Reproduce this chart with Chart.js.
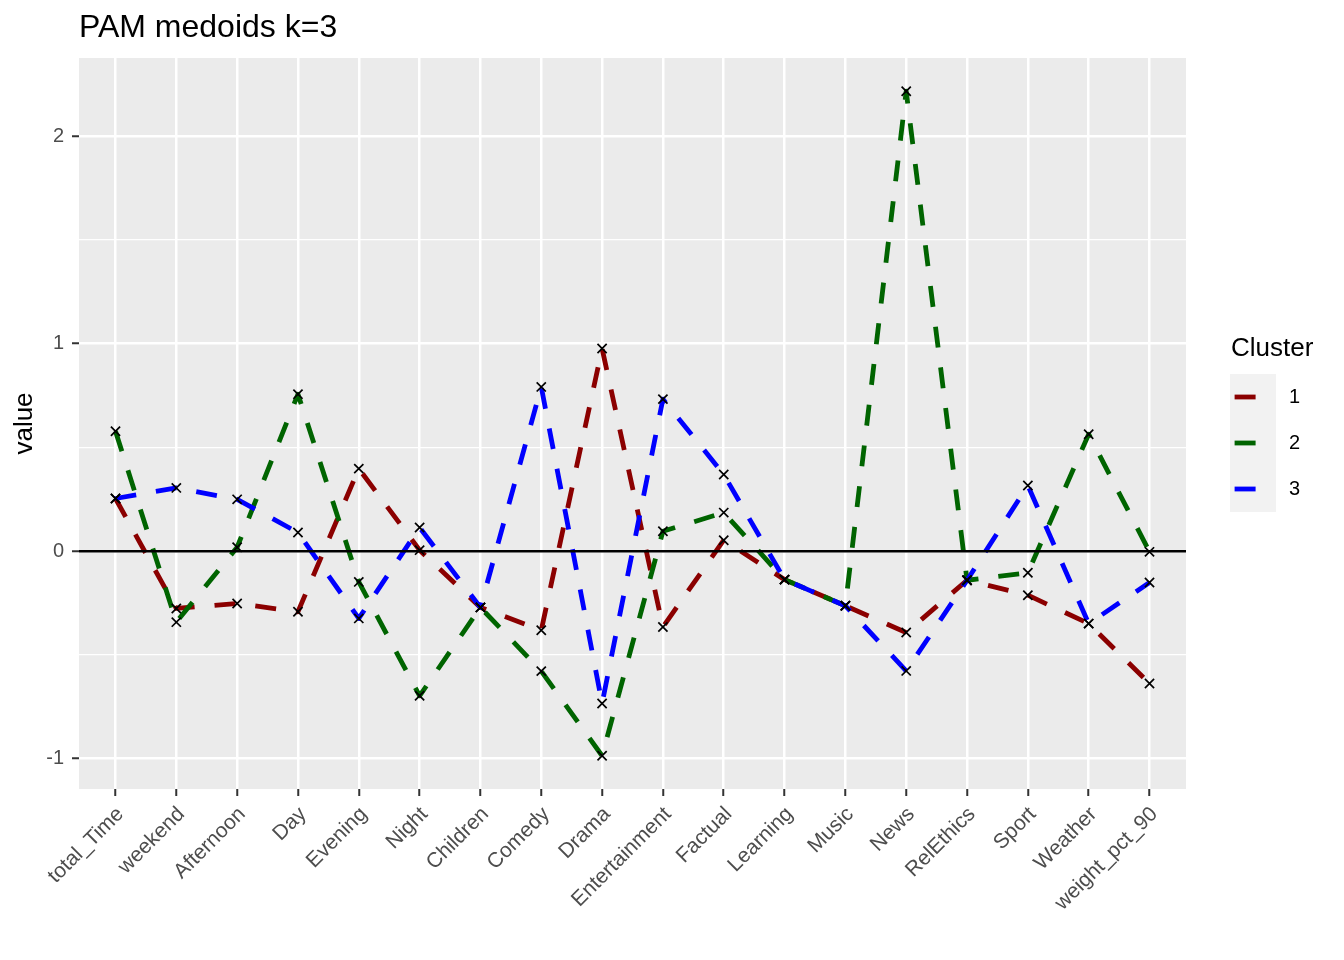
<!DOCTYPE html>
<html>
<head>
<meta charset="utf-8">
<title>PAM medoids k=3</title>
<script src="https://cdn.jsdelivr.net/npm/chart.js@4.4.1/dist/chart.umd.min.js"></script>
<style>
  html, body { margin: 0; padding: 0; background: #ffffff; }
  #wrap { width: 1344px; height: 960px; }
</style>
</head>
<body>
<div id="wrap"><canvas id="pam" width="1344" height="960"></canvas></div>
<script>
// variables on the x axis
const categories = ['total_Time', 'weekend', 'Afternoon', 'Day', 'Evening', 'Night',
  'Children', 'Comedy', 'Drama', 'Entertainment', 'Factual', 'Learning', 'Music',
  'News', 'RelEthics', 'Sport', 'Weather', 'weight_pct_90'];

const clusterNames = ['1', '2', '3'];

// medoid values
const cluster1 = [0.254, -0.276, -0.252, -0.292, 0.398, 0.005, -0.271, -0.381, 0.977,
  -0.365, 0.053, -0.137, -0.263, -0.392, -0.140, -0.212, -0.349, -0.638];
const cluster2 = [0.578, -0.342, 0.019, 0.757, -0.148, -0.697, -0.271, -0.578, -0.986,
  0.096, 0.186, -0.137, -0.263, 2.217, -0.140, -0.104, 0.564, -0.003];
const cluster3 = [0.254, 0.305, 0.250, 0.090, -0.324, 0.114, -0.271, 0.792, -0.734,
  0.733, 0.370, -0.137, -0.263, -0.577, -0.140, 0.317, -0.349, -0.151];

const yTicks = [-1, -0.5, 0, 0.5, 1, 1.5, 2];

const clusterColors = ['#8B0000', '#006400', '#0000FF'];
const allSeries = [cluster1, cluster2, cluster3];

// ggplot style expansion: 5% on continuous y, 0.6 units on discrete x
const allVals = [].concat(cluster1, cluster2, cluster3);
const yLo = Math.min(...allVals), yHi = Math.max(...allVals);
const yPad = (yHi - yLo) * 0.05;
const xMin = -0.6, xMax = categories.length - 1 + 0.6;

Chart.defaults.font.family = "'Liberation Sans', Arial, Helvetica, sans-serif";

const datasets = [];
allSeries.forEach((vals, i) => {
  datasets.push({
    label: clusterNames[i],
    isCluster: true,
    data: vals.map((v, j) => ({x: j, y: v})),
    borderColor: clusterColors[i],
    backgroundColor: clusterColors[i],
    borderWidth: 4.8,
    borderDash: [21, 20],
    borderJoinStyle: 'round',
    pointRadius: 0,
    fill: false,
    tension: 0,
    order: 10 - i
  });
});
// zero line
datasets.push({
  label: 'zero',
  data: [{x: xMin, y: 0}, {x: xMax, y: 0}],
  borderColor: '#000000',
  borderWidth: 2.5,
  pointRadius: 0,
  order: 5
});
// the x markers go over every line
allSeries.forEach((vals, i) => {
  datasets.push({
    label: 'pts' + clusterNames[i],
    data: vals.map((v, j) => ({x: j, y: v})),
    showLine: false,
    pointStyle: 'crossRot',
    pointRadius: 6.5,
    pointBorderColor: '#000000',
    pointBorderWidth: 1.7,
    order: 0
  });
});

const panelBg = {
  id: 'panelBg',
  beforeDraw(chart) {
    const {ctx, chartArea: a} = chart;
    ctx.save();
    ctx.fillStyle = '#ffffff';
    ctx.fillRect(0, 0, chart.width, chart.height);
    ctx.fillStyle = '#EBEBEB';
    ctx.fillRect(a.left, a.top, a.right - a.left, a.bottom - a.top);
    ctx.restore();
  }
};

const clusterLegend = {
  id: 'clusterLegend',
  afterDraw(chart) {
    const {ctx, chartArea: a} = chart;
    const mid = (a.top + a.bottom) / 2;
    const left = a.right + 44;
    const keySize = 46;
    const keysTop = mid - 49.5;
    const items = chart.data.datasets.filter(d => d.isCluster);
    ctx.save();
    ctx.textBaseline = 'middle';
    ctx.textAlign = 'left';
    ctx.fillStyle = '#000000';
    ctx.font = "26px 'Liberation Sans', Arial, sans-serif";
    ctx.fillText('Cluster', left + 1, mid - 74.5);
    ctx.fillStyle = '#F2F2F2';
    ctx.fillRect(left, keysTop, keySize, keySize * items.length);
    items.forEach((d, i) => {
      const cy = keysTop + keySize * i + keySize / 2;
      ctx.beginPath();
      ctx.setLineDash(d.borderDash);
      ctx.lineCap = 'butt';
      ctx.lineWidth = d.borderWidth;
      ctx.strokeStyle = d.borderColor;
      ctx.moveTo(left + keySize * 0.1, cy);
      ctx.lineTo(left + keySize * 0.9, cy);
      ctx.stroke();
      ctx.setLineDash([]);
      ctx.fillStyle = '#000000';
      ctx.font = "20px 'Liberation Sans', Arial, sans-serif";
      ctx.fillText(d.label, left + 59, cy);
    });
    ctx.restore();
  }
};

new Chart(document.getElementById('pam'), {
  type: 'line',
  data: {datasets: datasets},
  plugins: [panelBg, clusterLegend],
  options: {
    responsive: false,
    animation: false,
    devicePixelRatio: 1,
    layout: {padding: {left: 0, right: 158, top: 0, bottom: 0}},
    plugins: {
      legend: {display: false},
      tooltip: {enabled: false},
      title: {
        display: true,
        text: 'PAM medoids k=3',
        align: 'start',
        fullSize: false,
        color: '#000000',
        font: {size: 32, weight: 'normal'},
        padding: {top: 9, bottom: 10.6}
      }
    },
    scales: {
      x: {
        type: 'linear',
        min: xMin,
        max: xMax,
        afterBuildTicks: s => { s.ticks = categories.map((c, i) => ({value: i})); },
        afterFit: s => { s.height = 171; },
        ticks: {
          autoSkip: false,
          minRotation: 45,
          maxRotation: 45,
          padding: 6,
          labelOffset: 5,
          color: '#4D4D4D',
          font: {size: 21},
          callback: v => categories[v]
        },
        grid: {color: '#FFFFFF', lineWidth: 2.5, tickColor: '#333333', tickWidth: 2, tickLength: 7},
        border: {display: false}
      },
      y: {
        type: 'linear',
        min: yLo - yPad,
        max: yHi + yPad,
        afterBuildTicks: s => { s.ticks = yTicks.map(v => ({value: v})); },
        afterFit: s => { s.width = 79; },
        ticks: {
          padding: 8,
          color: '#4D4D4D',
          font: {size: 20},
          callback: v => Number.isInteger(v) ? String(v) : ''
        },
        grid: {
          color: '#FFFFFF',
          lineWidth: c => Number.isInteger(c.tick.value) ? 2.5 : 1.2,
          tickColor: c => Number.isInteger(c.tick.value) ? '#333333' : 'rgba(0,0,0,0)',
          tickWidth: 2,
          tickLength: 7
        },
        border: {display: false},
        title: {
          display: true,
          text: 'value',
          color: '#000000',
          font: {size: 26},
          padding: {top: 9, bottom: 0}
        }
      }
    }
  }
});
</script>
</body>
</html>
